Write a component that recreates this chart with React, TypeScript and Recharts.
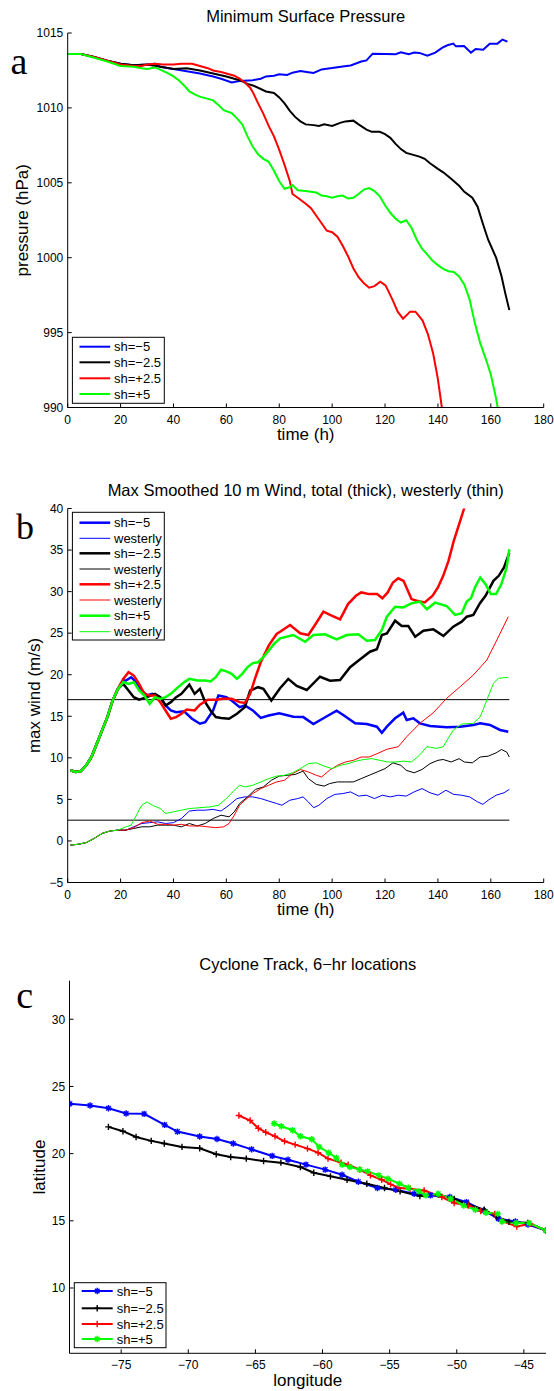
import React from 'react';
import { LineChart, Line, XAxis, YAxis, ReferenceLine } from 'recharts';

type Pt = [number, number];

// ---------- tick values ----------
const timeTicks = [0, 20, 40, 60, 80, 100, 120, 140, 160, 180];
const pressureTicks = [990, 995, 1000, 1005, 1010, 1015];
const windTicks = [-5, 0, 5, 10, 15, 20, 25, 30, 35, 40];
const lonTicks = [-75, -70, -65, -60, -55, -50, -45];
const latTicks = [10, 15, 20, 25, 30];

// ---------- series names ----------
const shearNames = ['sh=\u22125', 'sh=\u22122.5', 'sh=+2.5', 'sh=+5'];
const seriesColors = ['#0000ff', '#000000', '#ff0000', '#00ff00'];

// ---------- panel a: minimum surface pressure (hPa) vs time (h) ----------
const presBlue: Pt[] = [[0,1013.6],[5,1013.6],[10,1013.4],[15,1013.15],[20,1012.95],[25,1012.85],[30,1012.9],[33,1012.95],[35,1012.75],[40,1012.6],[45,1012.45],[50,1012.3],[55,1012.1],[58,1011.95],[62,1011.7],[65,1011.8],[70,1011.85],[73,1011.95],[75,1012.1],[78,1012.15],[80,1012.25],[83,1012.2],[85,1012.35],[88,1012.46],[91,1012.38],[93,1012.33],[96,1012.57],[100,1012.66],[104,1012.77],[107,1012.83],[111,1013.1],[113,1013.17],[115.3,1013.62],[120,1013.6],[124,1013.58],[126,1013.71],[129,1013.58],[131,1013.69],[133,1013.67],[136,1013.49],[139,1013.69],[141.7,1014.02],[143.6,1014.18],[145.8,1014.29],[146.8,1014.11],[149.9,1014.13],[152.5,1013.69],[154.3,1013.93],[157.1,1013.89],[159.6,1014.29],[162.5,1014.29],[164.4,1014.56],[166.3,1014.42]];
const presBlack: Pt[] = [[0,1013.6],[5,1013.6],[10,1013.4],[15,1013.15],[20,1012.95],[25,1012.85],[30,1012.9],[35,1012.75],[40,1012.6],[45,1012.65],[50,1012.5],[55,1012.3],[60,1012.1],[65,1011.85],[68,1011.6],[70,1011.5],[75,1011.1],[78,1011.0],[80,1010.7],[82,1010.3],[84,1009.8],[86,1009.4],[88,1009.1],[90,1008.9],[93,1008.85],[95,1008.8],[97,1008.9],[100,1008.8],[103,1009.0],[105,1009.1],[108,1009.15],[110,1008.9],[113,1008.55],[115,1008.4],[118,1008.4],[120,1008.25],[122,1008.0],[124,1007.6],[126,1007.25],[128,1007.0],[130,1006.9],[133,1006.75],[135,1006.6],[137,1006.3],[140,1005.93],[142,1005.7],[145,1005.27],[148,1004.8],[150,1004.4],[153,1004.0],[155,1003.4],[157,1002.27],[159,1001.2],[162,1000.0],[164,998.8],[165.5,997.6],[167,996.5]];
const presRed: Pt[] = [[0,1013.6],[5,1013.6],[10,1013.4],[15,1013.15],[20,1012.9],[25,1012.8],[28,1012.8],[30,1012.9],[33,1012.95],[36,1012.9],[40,1012.9],[43,1012.95],[47,1012.95],[50,1012.8],[53,1012.65],[55,1012.5],[58,1012.4],[60,1012.3],[63,1012.15],[65,1011.95],[67,1011.7],[69,1011.35],[70,1011.05],[72,1010.3],[74,1009.6],[76,1008.8],[78,1008.1],[80,1007.2],[82,1006.2],[84,1005.1],[85,1004.25],[87,1004.0],[90,1003.6],[92,1003.3],[94,1002.8],[96,1002.3],[98,1001.8],[100,1001.7],[102,1001.4],[104,1000.8],[106,1000.1],[108,999.3],[110,998.7],[112,998.3],[114,998.0],[116,998.1],[118.2,998.4],[120.2,998.15],[122.8,997.2],[124.8,996.4],[126.8,995.93],[129.5,996.4],[131.5,996.4],[134.2,995.8],[136.2,994.9],[138.2,993.6],[139.9,992.0],[141.1,990.5],[142,989.3],[143,988.0]];
const presGreen: Pt[] = [[0,1013.6],[5,1013.6],[10,1013.35],[15,1013.1],[20,1012.8],[25,1012.75],[28,1012.65],[30,1012.6],[33,1012.7],[35,1012.55],[38,1012.3],[40,1012.1],[42,1011.85],[44,1011.5],[46,1011.1],[48,1010.9],[50,1010.75],[53,1010.6],[55,1010.5],[57,1010.2],[59,1009.85],[62,1009.65],[64,1009.3],[66,1008.9],[68,1008.1],[70,1007.4],[72,1006.9],[74,1006.6],[76,1006.4],[78,1005.8],[80,1005.1],[82,1004.6],[84,1004.7],[85,1004.85],[87,1004.5],[90,1004.45],[92,1004.4],[94,1004.35],[96,1004.15],[98,1004.1],[100,1004.0],[102,1004.1],[104,1004.15],[106,1003.95],[108,1004.0],[110,1004.25],[112,1004.55],[114,1004.65],[116,1004.45],[118,1004.1],[120,1003.5],[122,1003.0],[124,1002.6],[126,1002.35],[128,1002.5],[130,1002.0],[132,1001.2],[134,1000.6],[136,1000.2],[138,999.8],[140,999.5],[142,999.25],[144,999.1],[146,999.05],[148,998.75],[150,998.2],[152,997.2],[154,995.6],[156,994.3],[158,993.3],[160,992.2],[161,991.4],[162,990.6],[163,989.6]];

// ---------- panel b: max smoothed 10 m wind (m/s) vs time (h) ----------
const windStart: Pt[] = [[1,8.5],[3,8.3],[5,8.4],[7,9.1],[9,10.1],[11,11.7],[13,13.3],[15,14.9],[17,16.9],[19,18.3]];
const westStart: Pt[] = [[1,-0.5],[4,-0.4],[7,-0.2],[10,0.3],[13,0.9],[16,1.2],[19,1.3]];

const windBlue: Pt[] = [...windStart,[21,19.3],[22,19.3],[24,19.7],[26,19.1],[28,18.1],[30,17.5],[32,17.7],[35,17.3],[37,16.3],[39,15.7],[41,15.5],[44,15.6],[47,14.7],[50,14.1],[52,14.3],[55,15.7],[57,17.5],[60,17.3],[62,16.9],[65,16.1],[67,16.3],[70,15.7],[73,14.8],[76,15.1],[80,15.36],[85.3,14.95],[89.1,14.9],[92.9,14.07],[96.7,14.76],[101.7,15.67],[104.2,15.15],[108.7,14.15],[113.1,14.07],[116.9,13.75],[118.8,13.02],[120.7,13.75],[123.8,14.76],[126.9,15.44],[128.2,14.55],[130.7,14.76],[133.2,14.15],[137,13.83],[143.3,13.67],[148.4,13.75],[153.4,13.95],[156,14.15],[159.7,13.95],[163.5,13.35],[166.6,13.14]];
const westBlue: Pt[] = [...westStart,[22,1.3],[25,1.7],[28,2.1],[31,2.2],[34,2.3],[37,2.1],[40,2.2],[43,2.7],[46,3.6],[49,3.7],[52,3.7],[55,3.8],[58,3.6],[61,4.3],[64,5.1],[67,5.3],[70,5.3],[73,5.1],[76,4.8],[79,4.5],[81,4.3],[84,4.9],[87,5.1],[89,5.3],[91,4.7],[93,4.0],[95,4.3],[98,5.1],[101,5.6],[104,5.7],[107,5.9],[110,5.4],[113,5.5],[116,5.1],[119,5.5],[122,5.3],[125,5.5],[128,5.4],[131,5.9],[134,6.3],[137,5.8],[140,5.5],[143,6.1],[146,5.6],[149,5.5],[152,5.3],[155,4.7],[157,4.4],[159,4.9],[162,5.5],[165,5.8],[167,6.2]];
const windBlack: Pt[] = [...windStart,[21,18.9],[23,18.1],[25,17.3],[27,17.0],[30,17.3],[33,17.7],[35,17.3],[37,16.3],[39,16.7],[41,17.3],[43,17.7],[46,18.8],[48,17.7],[50,18.3],[52,16.7],[54,15.7],[56,14.9],[58,14.8],[61,14.7],[64,15.3],[67,16.1],[69,18.1],[72,18.5],[74,18.3],[77,16.9],[80.3,18.37],[83.4,19.5],[86.6,18.64],[90.4,18.16],[95.4,19.76],[99.2,19.28],[103,19.36],[106.8,20.9],[110.6,21.85],[114.3,22.77],[116.9,23.06],[118.8,24.78],[120.7,24.98],[123.8,26.5],[126.3,25.86],[128.8,25.86],[131.4,24.58],[134.5,25.3],[138.3,25.46],[142.1,24.66],[145.8,25.78],[149,26.38],[150.9,26.98],[153.4,27.19],[155.9,28.6],[158,29.5],[161,31.3],[163,31.9],[165,32.9],[167,34.7]];
const westBlack: Pt[] = [...westStart,[22,1.3],[25,1.5],[28,1.7],[31,1.7],[34,1.9],[37,1.9],[40,1.9],[43,1.7],[46,2.1],[49,1.8],[52,2.1],[55,2.7],[58,3.1],[61,2.9],[63,3.5],[65,4.5],[68,5.3],[71,6.2],[74,6.5],[77,7.3],[80,7.8],[83,7.9],[86,8.0],[89,8.4],[91,7.5],[94,6.8],[97,6.6],[99,6.9],[102,7.1],[105,7.1],[108,7.1],[111,7.5],[114,7.9],[117,8.3],[120,8.7],[123,9.4],[126,9.1],[128,8.5],[131,8.2],[134,8.6],[137,9.3],[140,9.7],[142,9.8],[145,9.5],[148,9.9],[150,9.5],[153,9.4],[156,10.1],[159,10.2],[162,10.6],[164,11.0],[166,10.7],[167,10.1]];
const windRed: Pt[] = [...windStart,[21,19.5],[23,20.3],[25,19.9],[27,18.9],[29,17.7],[31,17.5],[33,17.5],[35,16.7],[37,15.7],[39,14.7],[41,14.9],[43,15.3],[45,15.8],[48,15.7],[50,16.4],[53,17.0],[56,17.0],[59,17.1],[62,17.1],[65,16.7],[67,16.6],[69,17.7],[71,19.7],[73,21.5],[76,23.5],[79,24.9],[80.3,25.18],[84.1,25.98],[87.9,24.98],[91,24.78],[93.5,25.98],[96.7,27.58],[99.2,27.19],[103,26.67],[106,28.5],[109,29.5],[111,29.9],[114,29.7],[117,29.7],[119,29.2],[121,29.9],[123,31.1],[125,31.6],[127,31.3],[130,29.1],[132,28.9],[135,28.7],[138,29.5],[140,30.5],[142,31.9],[144,33.7],[146,36.1],[148,38.1],[150,40.1],[152,42.0],[154,44.0]];
const westRed: Pt[] = [...westStart,[22,1.3],[25,1.6],[28,2.2],[31,2.4],[34,2.0],[37,2.0],[40,1.9],[43,2.0],[46,1.8],[50,1.8],[53,1.7],[56,1.6],[59,1.7],[61,2.1],[63,3.1],[65,4.3],[67,4.9],[70,5.7],[73,6.3],[76,6.7],[79,7.1],[82,7.3],[85,8.1],[88,8.6],[91,8.3],[94,7.9],[96,7.7],[99,8.5],[102,9.1],[105,9.5],[108,9.7],[111,10.1],[114,10.1],[117,10.5],[120.7,11.03],[125,11.34],[128.2,12.54],[133.2,14.15],[138.3,15.44],[143.3,17.16],[148.4,18.56],[153.4,19.97],[158.5,21.77],[162.3,24.18],[166.6,26.98]];
const windGreen: Pt[] = [...windStart,[21,19.1],[23,18.9],[25,19.1],[27,18.1],[29,17.5],[31,16.5],[33,17.3],[35,17.1],[37,17.3],[39,17.7],[41,18.3],[44,19.1],[46,19.5],[49,19.3],[52,19.3],[54,19.2],[56,19.7],[58,20.6],[60,20.4],[62,20.1],[64,19.5],[66,20.1],[68,20.9],[70,21.4],[72,21.5],[74,22.1],[76,22.9],[78,23.7],[80.3,24.38],[85.3,24.78],[89.8,23.97],[92.9,24.78],[97.3,24.86],[101.7,24.26],[105.5,24.78],[109.9,24.86],[113.1,24.1],[116.2,24.18],[118.8,25.38],[120.7,26.98],[123.8,28.18],[126.9,28.1],[130.1,28.6],[133.2,28.8],[135.8,27.87],[138.9,28.67],[143.3,28.27],[146.5,27.19],[149,27.39],[150.9,28.8],[152.5,29.2],[154,30.5],[156,31.7],[158,30.9],[160,29.7],[162,29.7],[164,30.9],[166,32.9],[167,35.1]];
const westGreen: Pt[] = [...westStart,[22,1.7],[24,1.9],[26,3.1],[28,4.3],[30,4.7],[32,4.3],[35,3.9],[37,3.3],[40,3.5],[43,3.7],[46,3.9],[50,4.0],[54,4.1],[57,4.3],[60,5.1],[63,6.1],[65,6.7],[67,6.5],[70,6.7],[73,7.1],[76,7.5],[79,7.8],[82,7.9],[85,8.2],[88,8.7],[91,9.3],[94,9.4],[97,9.0],[100,8.7],[103,9.1],[106,9.3],[109,9.6],[112,9.8],[115,9.9],[118,9.7],[121,9.5],[124,9.5],[127,9.6],[130,9.5],[133,10.3],[135.8,11.34],[139.6,11.14],[142,11.34],[145.8,13.35],[149,14.07],[153.4,14.15],[156,14.95],[158.5,16.96],[161,18.97],[162.9,19.57],[166.6,19.69]];

const windThresholds = [17, 2.5];
const thresholdSpan = [0, 167];

// ---------- panel c: cyclone track, 6-hr locations (lon, lat) ----------
const trackBlue: Pt[] = [[-78.82,23.71],[-77.32,23.58],[-75.95,23.38],[-74.63,22.99],[-73.29,22.96],[-71.76,22.14],[-70.81,21.64],[-69.15,21.27],[-67.86,21.09],[-66.65,20.75],[-65.28,20.32],[-63.75,19.83],[-62.57,19.55],[-61.23,19.18],[-59.8,18.81],[-58.54,18.43],[-57.33,17.91],[-55.91,17.44],[-54.54,17.31],[-53.17,17.01],[-51.96,16.89],[-50.51,16.77],[-49.27,16.39],[-48.0,15.77],[-46.9,15.15],[-45.63,14.95],[-44.69,14.73],[-43.34,14.28]];
const trackBlack: Pt[] = [[-75.95,21.99],[-74.87,21.67],[-73.89,21.24],[-72.76,20.95],[-71.79,20.75],[-70.47,20.5],[-69.15,20.4],[-67.92,19.95],[-66.84,19.75],[-65.68,19.63],[-64.39,19.45],[-63.1,19.33],[-61.65,19.0],[-60.65,18.58],[-59.41,18.31],[-58.17,18.06],[-56.7,17.76],[-55.38,17.44],[-54.22,17.19],[-52.75,16.84],[-51.38,16.95],[-50.19,16.62],[-49.14,16.2],[-47.95,15.82],[-47.02,15.32],[-46.11,14.92],[-44.71,14.85],[-43.34,14.28]];
const trackRed: Pt[] = [[-66.23,22.84],[-65.39,22.46],[-64.78,21.89],[-64.23,21.59],[-63.54,21.29],[-62.83,20.92],[-62.04,20.67],[-61.12,20.37],[-60.33,20.07],[-59.59,19.63],[-58.62,19.33],[-58.09,19.18],[-57.22,18.81],[-56.43,18.38],[-55.59,18.06],[-54.93,17.71],[-54.27,17.44],[-53.48,17.39],[-52.43,17.26],[-51.11,16.77],[-50.19,16.32],[-49.14,16.14],[-48.21,15.72],[-47.16,15.52],[-46.63,14.98],[-45.53,14.58],[-44.53,14.78],[-43.34,14.28]];
const trackGreen: Pt[] = [[-63.6,22.24],[-63.07,22.04],[-62.23,21.74],[-61.65,21.29],[-60.8,21.07],[-60.25,20.5],[-59.54,20.07],[-58.96,19.68],[-58.54,19.18],[-57.96,19.0],[-57.22,18.81],[-56.64,18.68],[-55.8,18.38],[-55.12,18.13],[-54.27,17.76],[-53.61,17.46],[-52.82,17.19],[-52.3,16.89],[-51.38,17.01],[-50.46,16.64],[-49.48,16.14],[-48.61,15.82],[-47.82,15.6],[-46.95,15.52],[-46.63,14.95],[-45.58,14.83],[-44.61,14.83],[-43.34,14.28]];

// ---------- helpers ----------
const rows = (pts: Pt[]) => pts.map(([x, y]) => ({ x, y }));
const fmt = (v: number) => (v < 0 ? '\u2212' + Math.abs(v) : String(v));
const FONT = "'Liberation Sans', Arial, Helvetica, sans-serif";
const SERIF = "'Liberation Serif', 'Times New Roman', serif";
const W = 554;

type Rect = { left: number; top: number; right: number; bottom: number };

const markerPath = (cx: number, cy: number, kind: string) => {
  const r = 3.2;
  const d = 2.3;
  if (kind === 'plus') return `M${cx - r},${cy}H${cx + r}M${cx},${cy - r}V${cy + r}`;
  return `M${cx - r},${cy}H${cx + r}M${cx},${cy - r}V${cy + r}M${cx - d},${cy - d}L${cx + d},${cy + d}M${cx - d},${cy + d}L${cx + d},${cy - d}`;
};
const markerKinds = ['star', 'plus', 'plus', 'star'];

const makeDot = (color: string, kind: string) => (props: any) => {
  const { cx, cy, index } = props;
  if (cx == null || cy == null) return <g key={`e${index}`} />;
  return <path key={`d${index}`} d={markerPath(cx, cy, kind)} stroke={color} strokeWidth={1.4} fill="none" />;
};

function Frame(props: {
  panelTop: number; plot: Rect; xDomain: [number, number]; yDomain: [number, number];
  xTicks: number[]; yTicks: number[]; children: React.ReactNode;
}) {
  const { panelTop, plot, xDomain, yDomain, xTicks, yTicks, children } = props;
  const height = plot.bottom - panelTop + 30;
  return (
    <div style={{ position: 'absolute', left: 0, top: panelTop }}>
      <LineChart
        width={W}
        height={height}
        margin={{ top: plot.top - panelTop, right: W - plot.right, bottom: 0, left: 0 }}
      >
        <XAxis xAxisId="b" type="number" dataKey="x" domain={xDomain} ticks={xTicks} interval={0}
          allowDataOverflow tickSize={-4} tickMargin={11.5} height={30} stroke="#000"
          tick={{ fill: '#000', fontSize: 12 }} tickFormatter={fmt} />
        <XAxis xAxisId="t" orientation="top" type="number" dataKey="x" domain={xDomain} ticks={xTicks}
          interval={0} allowDataOverflow tickSize={-4} tick={false} height={0} stroke="#000" />
        <YAxis yAxisId="l" type="number" domain={yDomain} ticks={yTicks} interval={0} allowDataOverflow
          tickSize={-4} tickMargin={8.4} width={plot.left} stroke="#000"
          tick={{ fill: '#000', fontSize: 12 }} tickFormatter={fmt} />
        <YAxis yAxisId="r" orientation="right" type="number" domain={yDomain} ticks={yTicks} interval={0}
          allowDataOverflow tickSize={-4} tick={false} width={0} stroke="#000" />
        {children}
      </LineChart>
    </div>
  );
}

const plotA: Rect = { left: 67.7, top: 33, right: 543.7, bottom: 407.5 };
const plotB: Rect = { left: 67.7, top: 508.5, right: 543.7, bottom: 882.5 };
const plotC: Rect = { left: 69.5, top: 980.7, right: 546, bottom: 1353.3 };

const presSeries = [presBlue, presBlack, presRed, presGreen];
const windSeries = [windBlue, windBlack, windRed, windGreen];
const westSeries = [westBlue, westBlack, westRed, westGreen];
const trackSeries = [trackBlue, trackBlack, trackRed, trackGreen];

function Overlay() {
  const cxA = (plotA.left + plotA.right) / 2;
  const cxB = (plotB.left + plotB.right) / 2;
  const cxC = (plotC.left + plotC.right) / 2;
  const legA = { x: 72.4, y: 337.3, w: 91.9, h: 66, rows: [346.7, 362.3, 378.3, 394] };
  const legB = { x: 72.4, y: 512.3, w: 91.9, h: 127.7, rows: [522.7, 538.3, 553.3, 569, 584.3, 600, 615.7, 631.7] };
  const legC = { x: 74.3, y: 1282.7, w: 91.7, h: 65, rows: [1291, 1308.3, 1324, 1339] };
  return (
    <svg width={W} height={1391} style={{ position: 'absolute', left: 0, top: 0, pointerEvents: 'none' }}
      fontFamily={FONT}>
      {/* titles */}
      <text x={cxA} y={21.7} fontSize={16.5} textAnchor="middle">Minimum Surface Pressure</text>
      <text x={cxB} y={496} fontSize={16.5} textAnchor="middle">Max Smoothed 10 m Wind, total (thick), westerly (thin)</text>
      <text x={cxC} y={970} fontSize={16.5} textAnchor="middle">Cyclone Track, 6{'\u2212'}hr locations</text>
      {/* x labels */}
      <text x={cxA} y={440} fontSize={17} textAnchor="middle">time (h)</text>
      <text x={cxB} y={915} fontSize={17} textAnchor="middle">time (h)</text>
      <text x={cxC} y={1386} fontSize={17} textAnchor="middle">longitude</text>
      {/* y labels */}
      <text x={27.5} y={(plotA.top + plotA.bottom) / 2} fontSize={17} textAnchor="middle"
        transform={`rotate(-90 27.5 ${(plotA.top + plotA.bottom) / 2})`}>pressure (hPa)</text>
      <text x={40} y={(plotB.top + plotB.bottom) / 2} fontSize={17} textAnchor="middle"
        transform={`rotate(-90 40 ${(plotB.top + plotB.bottom) / 2})`}>max wind (m/s)</text>
      <text x={44.5} y={(plotC.top + plotC.bottom) / 2} fontSize={17} textAnchor="middle"
        transform={`rotate(-90 44.5 ${(plotC.top + plotC.bottom) / 2})`}>latitude</text>
      {/* panel letters */}
      <text x={10.5} y={74} fontSize={38} fontFamily={SERIF}>a</text>
      <text x={16} y={539} fontSize={36} fontFamily={SERIF}>b</text>
      <text x={16.3} y={1008.3} fontSize={38} fontFamily={SERIF}>c</text>

      {/* legend a */}
      <rect x={legA.x} y={legA.y} width={legA.w} height={legA.h} fill="#fff" stroke="#000" strokeWidth={1} />
      {shearNames.map((n, i) => (
        <g key={`la${i}`}>
          <line x1={79.5} x2={110.2} y1={legA.rows[i]} y2={legA.rows[i]} stroke={seriesColors[i]} strokeWidth={2} />
          <text x={114} y={legA.rows[i] + 4.6} fontSize={13}>{n}</text>
        </g>
      ))}
      {/* legend b */}
      <rect x={legB.x} y={legB.y} width={legB.w} height={legB.h} fill="#fff" stroke="#000" strokeWidth={1} />
      {shearNames.map((n, i) => (
        <g key={`lb${i}`}>
          <line x1={79.5} x2={110.2} y1={legB.rows[2 * i]} y2={legB.rows[2 * i]} stroke={seriesColors[i]} strokeWidth={2.5} />
          <text x={114} y={legB.rows[2 * i] + 4.6} fontSize={13}>{n}</text>
          <line x1={79.5} x2={110.2} y1={legB.rows[2 * i + 1]} y2={legB.rows[2 * i + 1]} stroke={seriesColors[i]} strokeWidth={1} />
          <text x={114} y={legB.rows[2 * i + 1] + 4.6} fontSize={13}>westerly</text>
        </g>
      ))}
      {/* legend c */}
      <rect x={legC.x} y={legC.y} width={legC.w} height={legC.h} fill="#fff" stroke="#000" strokeWidth={1} />
      {shearNames.map((n, i) => (
        <g key={`lc${i}`}>
          <line x1={81.7} x2={112.7} y1={legC.rows[i]} y2={legC.rows[i]} stroke={seriesColors[i]} strokeWidth={2} />
          <path d={markerPath(97.2, legC.rows[i], markerKinds[i])} stroke={seriesColors[i]} strokeWidth={1.4} fill="none" />
          <text x={116.7} y={legC.rows[i] + 4.6} fontSize={13}>{n}</text>
        </g>
      ))}
    </svg>
  );
}

export default function App() {
  return (
    <div style={{ position: 'absolute', left: 0, top: 0, width: W, height: 1391, background: '#fff', fontFamily: FONT, overflow: 'hidden' }}>
      <Frame panelTop={0} plot={plotA} xDomain={[0, 180]} yDomain={[990, 1015]} xTicks={timeTicks} yTicks={pressureTicks}>
        {presSeries.map((s, i) => (
          <Line key={`pa${i}`} xAxisId="b" yAxisId="l" data={rows(s)} dataKey="y" stroke={seriesColors[i]}
            strokeWidth={2} dot={false} isAnimationActive={false} />
        ))}
      </Frame>
      <Frame panelTop={470} plot={plotB} xDomain={[0, 180]} yDomain={[-5, 40]} xTicks={timeTicks} yTicks={windTicks}>
        {windThresholds.map((v, i) => (
          <ReferenceLine key={`th${i}`} xAxisId="b" yAxisId="l"
            segment={[{ x: thresholdSpan[0], y: v }, { x: thresholdSpan[1], y: v }]}
            stroke="#000" strokeWidth={1} ifOverflow="visible" />
        ))}
        {windSeries.map((s, i) => [
          <Line key={`wt${i}`} xAxisId="b" yAxisId="l" data={rows(s)} dataKey="y" stroke={seriesColors[i]}
            strokeWidth={2.5} dot={false} isAnimationActive={false} />,
          <Line key={`ww${i}`} xAxisId="b" yAxisId="l" data={rows(westSeries[i])} dataKey="y" stroke={seriesColors[i]}
            strokeWidth={1} dot={false} isAnimationActive={false} />,
        ])}
      </Frame>
      <Frame panelTop={940} plot={plotC} xDomain={[-78.85, -43.35]} yDomain={[5.14, 32.87]} xTicks={lonTicks} yTicks={latTicks}>
        {trackSeries.map((s, i) => (
          <Line key={`tc${i}`} xAxisId="b" yAxisId="l" data={rows(s)} dataKey="y" stroke={seriesColors[i]}
            strokeWidth={2} dot={makeDot(seriesColors[i], markerKinds[i])} isAnimationActive={false} />
        ))}
      </Frame>
      <Overlay />
    </div>
  );
}
